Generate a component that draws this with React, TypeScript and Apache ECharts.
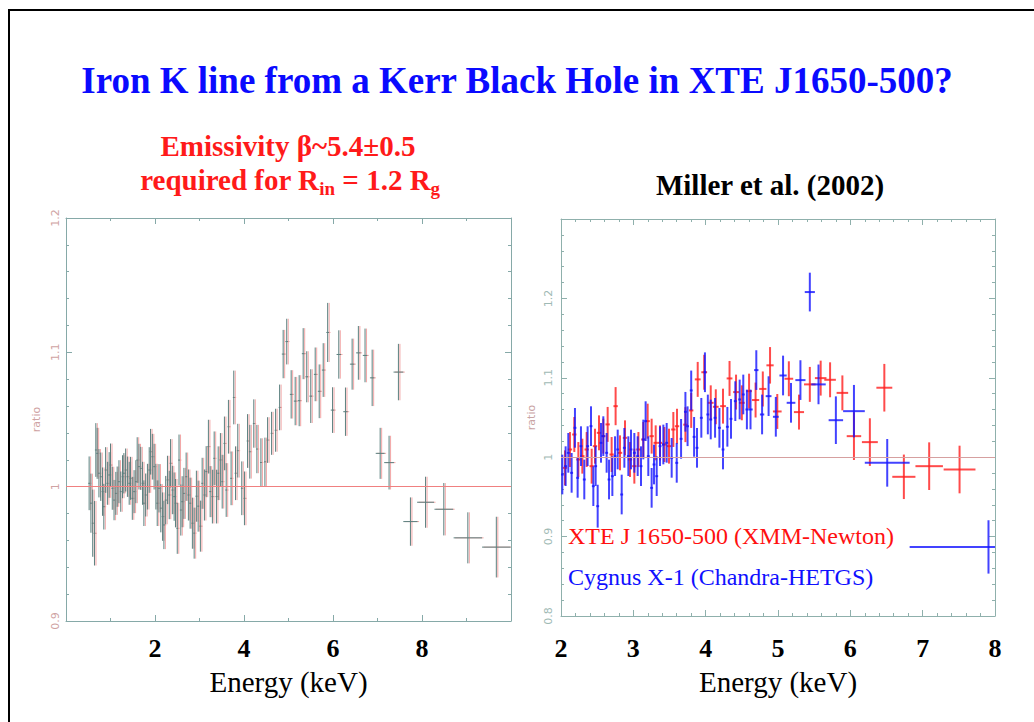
import React, { useEffect, useRef } from "react";
import * as echarts from "echarts";

// ---------- DATA ----------
// Left panel: [energy keV, ratio, half-width keV, ratio error]
const leftPoints: number[][] = [
  [0.52, 1.0025, 0.02, 0.02], [0.56, 0.9877, 0.02, 0.022], [0.60, 0.9728, 0.02, 0.025], [0.64, 0.9653, 0.02, 0.024],
  [0.67, 1.0273, 0.02, 0.02], [0.70, 1.0248, 0.02, 0.019], [0.74, 1.010, 0.02, 0.018], [0.78, 1.0074, 0.02, 0.018],
  [0.82, 0.9963, 0.02, 0.018], [0.85, 0.9851, 0.02, 0.017], [0.89, 1.0124, 0.02, 0.017], [0.93, 1.0025, 0.02, 0.016],
  [0.97, 1.0087, 0.02, 0.017], [1.00, 1.0161, 0.02, 0.016], [1.04, 0.9988, 0.02, 0.016], [1.08, 0.990, 0.02, 0.015],
  [1.12, 0.995, 0.02, 0.016], [1.15, 1.000, 0.02, 0.015], [1.19, 1.0037, 0.02, 0.016], [1.23, 0.9963, 0.02, 0.015],
  [1.27, 1.0074, 0.02, 0.016], [1.30, 1.010, 0.02, 0.015], [1.34, 1.0124, 0.02, 0.016], [1.38, 1.0074, 0.02, 0.015],
  [1.42, 1.0025, 0.02, 0.016], [1.45, 1.0062, 0.02, 0.016], [1.49, 0.9913, 0.02, 0.016], [1.53, 0.9963, 0.02, 0.016],
  [1.57, 1.0037, 0.02, 0.016], [1.60, 1.0198, 0.02, 0.017], [1.64, 1.0149, 0.02, 0.017], [1.68, 1.0136, 0.02, 0.016],
  [1.72, 1.0025, 0.02, 0.016], [1.75, 0.9877, 0.02, 0.017], [1.79, 0.9938, 0.02, 0.016], [1.83, 1.000, 0.02, 0.017],
  [1.87, 1.0124, 0.02, 0.017], [1.90, 1.026, 0.02, 0.017], [1.94, 1.0223, 0.02, 0.017], [1.98, 1.0149, 0.02, 0.017],
  [2.02, 1.000, 0.02, 0.017], [2.05, 0.9877, 0.02, 0.017], [2.09, 0.9988, 0.02, 0.018], [2.13, 0.984, 0.02, 0.018],
  [2.17, 0.9777, 0.02, 0.018], [2.20, 0.9715, 0.02, 0.018], [2.24, 0.990, 0.02, 0.018], [2.28, 1.005, 0.02, 0.018],
  [2.32, 0.9938, 0.02, 0.018], [2.35, 1.0174, 0.02, 0.018], [2.39, 0.9975, 0.02, 0.018], [2.43, 0.9926, 0.02, 0.018],
  [2.46, 0.9877, 0.02, 0.018], [2.50, 0.969, 0.02, 0.019], [2.54, 1.0198, 0.02, 0.019], [2.58, 0.9826, 0.02, 0.019],
  [2.61, 0.9888, 0.02, 0.019], [2.65, 0.995, 0.02, 0.019], [2.70, 1.0074, 0.02, 0.018], [2.75, 0.9938, 0.02, 0.019],
  [2.79, 0.9877, 0.02, 0.019], [2.84, 0.9728, 0.02, 0.019], [2.88, 0.9654, 0.02, 0.019], [2.93, 0.9929, 0.02, 0.019],
  [2.97, 0.9855, 0.02, 0.019], [3.02, 0.9706, 0.02, 0.019], [3.06, 1.0025, 0.02, 0.019], [3.11, 0.9938, 0.02, 0.019],
  [3.15, 1.0112, 0.02, 0.019], [3.20, 1.0298, 0.02, 0.02], [3.24, 0.9963, 0.02, 0.019], [3.29, 0.9926, 0.02, 0.02],
  [3.33, 1.0211, 0.02, 0.02], [3.38, 0.9926, 0.02, 0.02], [3.42, 1.010, 0.02, 0.02], [3.47, 1.0199, 0.02, 0.02],
  [3.51, 1.0037, 0.02, 0.02], [3.56, 1.0322, 0.02, 0.02], [3.60, 0.9975, 0.02, 0.02], [3.65, 1.0446, 0.02, 0.02],
  [3.71, 1.0062, 0.02, 0.02], [3.77, 1.0664, 0.02, 0.02], [3.81, 1.010, 0.02, 0.02], [3.86, 1.0268, 0.02, 0.02],
  [3.95, 0.9988, 0.02, 0.02], [4.01, 0.9913, 0.02, 0.02], [4.08, 1.034, 0.02, 0.02], [4.13, 1.026, 0.02, 0.02],
  [4.22, 1.047, 0.02, 0.018], [4.29, 1.028, 0.02, 0.018], [4.38, 1.018, 0.02, 0.018], [4.47, 1.0185, 0.02, 0.018],
  [4.53, 1.0347, 0.02, 0.017], [4.62, 1.0397, 0.02, 0.016], [4.71, 1.042, 0.02, 0.016], [4.80, 1.059, 0.02, 0.017],
  [4.88, 1.0987, 0.03, 0.018], [4.96, 1.108, 0.03, 0.017], [5.06, 1.0687, 0.03, 0.018], [5.15, 1.0637, 0.03, 0.018],
  [5.24, 1.064, 0.03, 0.019], [5.33, 1.099, 0.03, 0.019], [5.41, 1.0818, 0.03, 0.019], [5.50, 1.0674, 0.03, 0.02],
  [5.60, 1.0836, 0.03, 0.02], [5.69, 1.071, 0.03, 0.02], [5.78, 1.0868, 0.03, 0.02], [5.88, 1.1148, 0.03, 0.022],
  [5.99, 1.057, 0.04, 0.017], [6.13, 1.0984, 0.05, 0.018], [6.28, 1.0558, 0.05, 0.018], [6.43, 1.0912, 0.05, 0.019],
  [6.57, 1.0996, 0.05, 0.02], [6.72, 1.0977, 0.05, 0.02], [6.88, 1.081, 0.05, 0.021], [7.06, 1.0248, 0.10, 0.019],
  [7.26, 1.0179, 0.11, 0.02], [7.47, 1.0853, 0.11, 0.021], [7.74, 0.974, 0.16, 0.018], [8.08, 0.9884, 0.19, 0.019],
  [8.49, 0.9832, 0.21, 0.0195], [9.03, 0.9619, 0.32, 0.019], [9.67, 0.955, 0.32, 0.0226],
];

// Right panel: [energy keV, ratio, minus half-width, plus half-width, ratio error]
const xtePoints: number[][] = [
  [2.055, 0.9866, 0.03, 0.03, 0.022], [2.124, 1.0097, 0.03, 0.03, 0.022], [2.184, 1.0286, 0.03, 0.03, 0.022],
  [2.24, 0.9971, 0.03, 0.03, 0.022], [2.295, 1.0013, 0.03, 0.03, 0.022], [2.355, 1.0097, 0.03, 0.03, 0.022],
  [2.424, 0.9887, 0.03, 0.03, 0.022], [2.47, 1.0139, 0.03, 0.03, 0.022], [2.525, 1.0307, 0.03, 0.03, 0.022],
  [2.585, 1.0265, 0.03, 0.03, 0.022], [2.645, 1.0413, 0.03, 0.03, 0.022], [2.70, 1.0034, 0.03, 0.03, 0.022],
  [2.755, 1.0643, 0.03, 0.03, 0.024], [2.816, 1.0055, 0.03, 0.03, 0.022], [2.885, 1.0244, 0.03, 0.03, 0.022],
  [2.954, 0.9971, 0.03, 0.03, 0.022], [3.014, 0.9887, 0.03, 0.03, 0.022], [3.07, 1.0097, 0.03, 0.03, 0.022],
  [3.138, 1.0223, 0.03, 0.03, 0.022], [3.198, 1.0454, 0.03, 0.03, 0.022], [3.253, 1.0265, 0.03, 0.03, 0.022],
  [3.309, 1.0181, 0.03, 0.03, 0.022], [3.369, 1.0181, 0.03, 0.03, 0.022], [3.429, 1.016, 0.03, 0.03, 0.022],
  [3.493, 1.0139, 0.03, 0.03, 0.022], [3.553, 1.0349, 0.03, 0.03, 0.022], [3.604, 1.039, 0.03, 0.03, 0.022],
  [3.72, 1.041, 0.03, 0.03, 0.022], [3.80, 1.0589, 0.03, 0.03, 0.022], [3.89, 1.098, 0.04, 0.04, 0.022],
  [3.98, 1.107, 0.04, 0.04, 0.022], [4.07, 1.0685, 0.04, 0.04, 0.022], [4.14, 1.0635, 0.04, 0.04, 0.022],
  [4.24, 1.0643, 0.04, 0.04, 0.022], [4.33, 1.0992, 0.04, 0.04, 0.022], [4.42, 1.082, 0.04, 0.04, 0.022],
  [4.50, 1.0685, 0.04, 0.04, 0.022], [4.60, 1.0832, 0.04, 0.04, 0.022], [4.69, 1.072, 0.05, 0.05, 0.022],
  [4.79, 1.086, 0.05, 0.05, 0.022], [4.89, 1.1157, 0.05, 0.05, 0.023], [4.99, 1.0576, 0.06, 0.06, 0.022],
  [5.15, 1.0988, 0.06, 0.06, 0.022], [5.29, 1.0568, 0.07, 0.07, 0.022], [5.44, 1.0917, 0.08, 0.08, 0.022],
  [5.59, 1.0996, 0.08, 0.08, 0.022], [5.72, 1.0975, 0.08, 0.08, 0.022], [5.89, 1.081, 0.08, 0.08, 0.022],
  [6.05, 1.0265, 0.10, 0.10, 0.03], [6.27, 1.019, 0.11, 0.11, 0.03], [6.47, 1.0875, 0.11, 0.11, 0.03],
  [6.74, 0.9753, 0.16, 0.16, 0.028], [7.09, 0.9887, 0.19, 0.19, 0.03], [7.51, 0.9845, 0.22, 0.22, 0.03],
];

const cygPoints: number[][] = [
  [2.018, 0.9782, 0.02, 0.02, 0.025], [2.064, 0.9887, 0.02, 0.02, 0.025], [2.101, 1.0055, 0.02, 0.02, 0.025],
  [2.147, 0.9803, 0.02, 0.02, 0.025], [2.193, 1.037, 0.02, 0.02, 0.025], [2.23, 0.974, 0.02, 0.02, 0.025],
  [2.276, 1.0139, 0.02, 0.02, 0.025], [2.322, 0.9719, 0.02, 0.02, 0.025], [2.368, 1.0139, 0.02, 0.02, 0.025],
  [2.415, 1.0391, 0.02, 0.02, 0.025], [2.447, 0.9635, 0.02, 0.02, 0.025], [2.479, 0.9887, 0.02, 0.02, 0.025],
  [2.507, 0.9383, 0.02, 0.02, 0.027], [2.553, 1.0181, 0.02, 0.02, 0.025], [2.585, 1.0265, 0.02, 0.02, 0.025],
  [2.631, 1.0055, 0.02, 0.02, 0.025], [2.664, 0.9719, 0.02, 0.02, 0.025], [2.71, 0.9761, 0.02, 0.02, 0.025],
  [2.747, 1.0013, 0.02, 0.02, 0.025], [2.784, 1.0097, 0.02, 0.02, 0.025], [2.839, 0.953, 0.02, 0.02, 0.025],
  [2.876, 1.0118, 0.02, 0.02, 0.025], [2.931, 1.0013, 0.02, 0.02, 0.025], [2.968, 1.0097, 0.02, 0.02, 0.025],
  [3.014, 1.0055, 0.02, 0.02, 0.025], [3.06, 1.0013, 0.02, 0.02, 0.025], [3.106, 0.9887, 0.02, 0.02, 0.025],
  [3.138, 1.0223, 0.02, 0.02, 0.025], [3.17, 1.0454, 0.02, 0.02, 0.025], [3.207, 1.0013, 0.02, 0.02, 0.025],
  [3.253, 0.9614, 0.02, 0.02, 0.025], [3.286, 0.9908, 0.02, 0.02, 0.025], [3.323, 0.9761, 0.02, 0.02, 0.025],
  [3.369, 1.0139, 0.02, 0.02, 0.025], [3.415, 1.016, 0.02, 0.02, 0.025], [3.461, 1.0181, 0.02, 0.02, 0.025],
  [3.53, 0.9992, 0.02, 0.02, 0.025], [3.60, 0.9929, 0.02, 0.02, 0.025], [3.66, 1.0231, 0.02, 0.02, 0.025],
  [3.72, 1.0572, 0.02, 0.02, 0.025], [3.75, 1.039, 0.02, 0.02, 0.025], [3.80, 1.0841, 0.02, 0.02, 0.025],
  [3.84, 1.0256, 0.02, 0.02, 0.025], [3.88, 1.0118, 0.02, 0.02, 0.025], [3.94, 1.0496, 0.02, 0.02, 0.025],
  [3.99, 1.107, 0.02, 0.02, 0.025], [4.03, 1.0538, 0.02, 0.02, 0.025], [4.07, 1.0475, 0.02, 0.02, 0.025],
  [4.13, 1.0496, 0.02, 0.02, 0.025], [4.19, 1.037, 0.02, 0.02, 0.025], [4.24, 1.0097, 0.02, 0.02, 0.025],
  [4.30, 1.0383, 0.02, 0.02, 0.025], [4.35, 1.0483, 0.02, 0.02, 0.025], [4.41, 1.0706, 0.02, 0.02, 0.025],
  [4.47, 1.0727, 0.02, 0.02, 0.025], [4.52, 1.079, 0.02, 0.02, 0.025], [4.57, 1.0601, 0.02, 0.02, 0.025],
  [4.62, 1.0601, 0.03, 0.03, 0.025], [4.70, 1.1097, 0.03, 0.03, 0.025], [4.78, 1.0538, 0.03, 0.03, 0.025],
  [4.87, 1.0769, 0.04, 0.04, 0.025], [4.97, 1.0509, 0.04, 0.04, 0.025], [5.07, 1.1029, 0.05, 0.05, 0.025],
  [5.18, 1.0685, 0.06, 0.06, 0.025], [5.31, 1.0971, 0.07, 0.07, 0.025], [5.44, 1.208, 0.07, 0.07, 0.0244],
  [5.56, 1.0917, 0.10, 0.10, 0.025], [5.80, 1.0466, 0.10, 0.10, 0.03], [6.05, 1.058, 0.15, 0.15, 0.033],
  [6.51, 0.9929, 0.31, 0.31, 0.03], [7.91, 0.887, 1.09, 0.09, 0.0336],
];

// Axis ranges: [min, max, interval]
const leftXRange = [0, 10, 2];
const leftYRange = [0.9, 1.2, 0.1];
const rightXRange = [2, 8, 1];
const rightYRange = [0.8, 1.3, 0.1];

const titleText = "Iron K line from a Kerr Black Hole in XTE J1650-500?";
const legendXte = "XTE J 1650-500 (XMM-Newton)";
const legendCyg = "Cygnus X-1 (Chandra-HETGS)";

const SERIF = "'Liberation Serif', 'Times New Roman', serif";

function errorBars(color: string, width: number, ghost?: string) {
  return (_params: any, api: any) => {
    const x = api.value(0), y = api.value(1), xm = api.value(2), xp = api.value(3), dy = api.value(4);
    const p0 = api.coord([x - xm, y]);
    const p1 = api.coord([x + xp, y]);
    const q0 = api.coord([x, y + dy]);
    const q1 = api.coord([x, y - dy]);
    const mk = (off: number, stroke: string) => [
      { type: "line", shape: { x1: p0[0] + off, y1: p0[1], x2: p1[0] + off, y2: p1[1] }, style: { stroke, lineWidth: width } },
      { type: "line", shape: { x1: q0[0] + off, y1: q0[1], x2: q1[0] + off, y2: q1[1] }, style: { stroke, lineWidth: width } },
    ];
    const children = ghost ? [...mk(1.5, ghost), ...mk(0, color)] : mk(0, color);
    return { type: "group", children };
  };
}

function frameAxis(color: string, range: number[], minorSplit: number, extra: any = {}) {
  return {
    type: "value",
    min: range[0],
    max: range[1],
    interval: range[2],
    axisLine: { show: true, onZero: false, lineStyle: { color, width: 1 } },
    axisTick: { show: true, inside: true, length: 6, lineStyle: { color } },
    minorTick: { show: true, splitNumber: minorSplit, length: 3, lineStyle: { color } },
    splitLine: { show: false },
    minorSplitLine: { show: false },
    ...extra,
  };
}

export default function App() {
  const ref = useRef<HTMLDivElement>(null);
  useEffect(() => {
    if (!ref.current) return;
    const chart = echarts.init(ref.current, undefined, { renderer: "svg" });
    const leftColor = "#86a9a8";
    const rightColor = "#8fb0ac";
    const yLabelFmt = (v: number) => (Math.abs(v - 1) < 1e-9 ? "1" : v.toFixed(1));
    const option: any = {
      animation: false,
      backgroundColor: "#ffffff",
      grid: [
        { left: 66, top: 218, width: 445, height: 403 },
        { left: 561, top: 219, width: 434, height: 397 },
      ],
      xAxis: [
        frameAxis(leftColor, leftXRange, 2, {
          gridIndex: 0, position: "bottom",
          axisLabel: { show: true, margin: 14, fontFamily: SERIF, fontWeight: "bold", fontSize: 26, color: "#000", showMinLabel: false, showMaxLabel: false },
          name: "Energy (keV)", nameLocation: "middle", nameGap: 46,
          nameTextStyle: { fontFamily: SERIF, fontSize: 29, color: "#000" },
        }),
        frameAxis(leftColor, leftXRange, 2, { gridIndex: 0, position: "top", axisLabel: { show: false } }),
        frameAxis(rightColor, rightXRange, 5, {
          gridIndex: 1, position: "bottom",
          axisLabel: { show: true, margin: 19, fontFamily: SERIF, fontWeight: "bold", fontSize: 26, color: "#000" },
          name: "Energy (keV)", nameLocation: "middle", nameGap: 51,
          nameTextStyle: { fontFamily: SERIF, fontSize: 29, color: "#000" },
        }),
        frameAxis(rightColor, rightXRange, 5, { gridIndex: 1, position: "top", axisLabel: { show: false } }),
      ],
      yAxis: [
        frameAxis(leftColor, leftYRange, 5, {
          gridIndex: 0, position: "left",
          axisLabel: { show: true, rotate: 90, margin: 5, fontFamily: "'DejaVu Sans', sans-serif", fontSize: 11, color: "#cfa3a3", formatter: yLabelFmt },
          name: "ratio", nameLocation: "middle", nameGap: 24, nameRotate: 90,
          nameTextStyle: { fontFamily: "'DejaVu Sans', sans-serif", fontSize: 11, color: "#cfa3a3" },
        }),
        frameAxis(leftColor, leftYRange, 5, { gridIndex: 0, position: "right", axisLabel: { show: false } }),
        frameAxis(rightColor, rightYRange, 5, {
          gridIndex: 1, position: "left",
          axisLabel: { show: true, rotate: 90, margin: 7, fontFamily: "'DejaVu Sans', sans-serif", fontSize: 11, color: "#9fbab5", formatter: yLabelFmt, showMaxLabel: false },
          name: "ratio", nameLocation: "middle", nameGap: 24, nameRotate: 90,
          nameTextStyle: { fontFamily: "'DejaVu Sans', sans-serif", fontSize: 11, color: "#c9a4a4" },
        }),
        frameAxis(rightColor, rightYRange, 5, { gridIndex: 1, position: "right", axisLabel: { show: false } }),
      ],
      series: [
        {
          type: "custom",
          name: "XTE J1650-500 ratio",
          xAxisIndex: 0, yAxisIndex: 0,
          clip: true,
          data: leftPoints.map((p) => [p[0], p[1], p[2], p[2], p[3]]),
          encode: { x: 0, y: 1 },
          renderItem: errorBars("#5b807f", 1, "rgba(240,150,150,0.85)"),
          markLine: {
            silent: true, symbol: "none", label: { show: false },
            lineStyle: { color: "#f08080", width: 1, type: "solid" },
            data: [{ yAxis: 1 }],
          },
        },
        {
          type: "custom",
          name: legendXte,
          xAxisIndex: 2, yAxisIndex: 2,
          clip: true,
          data: xtePoints,
          encode: { x: 0, y: 1 },
          renderItem: errorBars("rgba(255,30,30,0.8)", 2),
          markLine: {
            silent: true, symbol: "none", label: { show: false },
            lineStyle: { color: "#d6a0a0", width: 1, type: "solid" },
            data: [{ yAxis: 1 }],
          },
        },
        {
          type: "custom",
          name: legendCyg,
          xAxisIndex: 2, yAxisIndex: 2,
          clip: true,
          data: cygPoints,
          encode: { x: 0, y: 1 },
          renderItem: errorBars("rgba(20,20,255,0.8)", 2),
        },
      ],
      graphic: [
        {
          type: "rect", silent: true, z: 100,
          shape: { x: 9, y: 10, width: 1100, height: 800 },
          style: { fill: "none", stroke: "#000", lineWidth: 2 },
        },
        {
          type: "text", x: 517, y: 80,
          style: { text: titleText, font: `bold 37px ${SERIF}`, fill: "#0a0aff", textAlign: "center", textVerticalAlign: "middle" },
        },
        {
          type: "text", x: 288, y: 146,
          style: { text: "Emissivity β~5.4±0.5", font: `bold 29px ${SERIF}`, fill: "#ff1a1a", textAlign: "center", textVerticalAlign: "middle" },
        },
        {
          type: "text", x: 290, y: 180,
          style: {
            text: "{a|required for R}{s|in}{a| = 1.2 R}{s|g}",
            textAlign: "center", textVerticalAlign: "middle",
            rich: {
              a: { fontFamily: SERIF, fontWeight: "bold", fontSize: 29, fill: "#ff1a1a", lineHeight: 36 },
              s: { fontFamily: SERIF, fontWeight: "bold", fontSize: 19, fill: "#ff1a1a", lineHeight: 19, verticalAlign: "bottom" },
            },
          },
        },
        {
          type: "text", x: 770, y: 185,
          style: { text: "Miller et al. (2002)", font: `bold 29px ${SERIF}`, fill: "#000", textAlign: "center", textVerticalAlign: "middle" },
        },
        {
          type: "text", x: 568, y: 536,
          style: { text: legendXte, font: `24px ${SERIF}`, fill: "#ff1010", textAlign: "left", textVerticalAlign: "middle" },
        },
        {
          type: "text", x: 568, y: 577,
          style: { text: legendCyg, font: `24px ${SERIF}`, fill: "#1010ff", textAlign: "left", textVerticalAlign: "middle" },
        },
      ],
    };
    chart.setOption(option);
    return () => chart.dispose();
  }, []);
  return (
    <div
      ref={ref}
      style={{ position: "absolute", left: 0, top: 0, width: 1034, height: 722, background: "#fff" }}
    />
  );
}
